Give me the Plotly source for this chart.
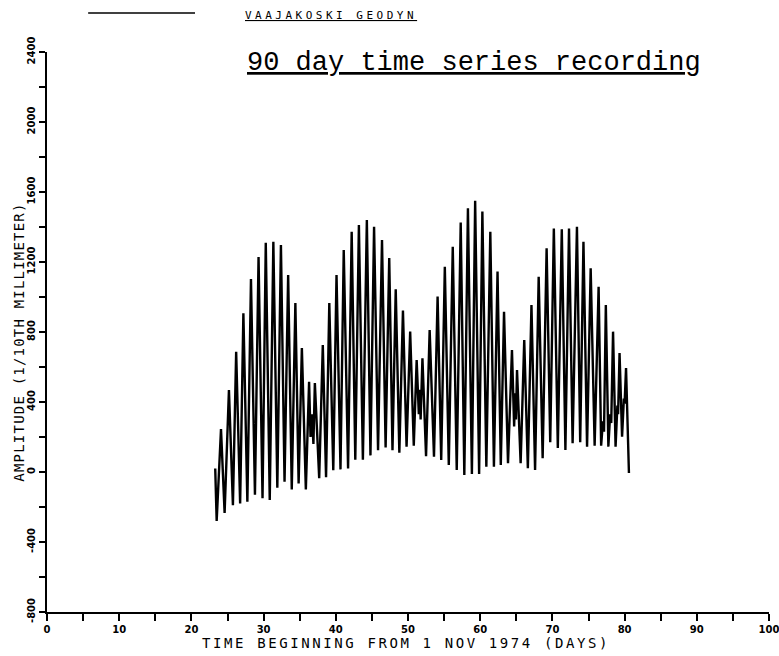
import plotly.graph_objects as go

# Turning points (day, amplitude) read from the recording
turn_days = [
    23.3, 23.5,
    24.1, 24.6, 25.2, 25.75, 26.2, 26.75, 27.2, 27.75, 28.25, 28.8,
    29.3, 29.85, 30.3, 30.85, 31.35, 31.9, 32.4, 32.9, 33.4, 33.9,
    34.4, 34.85, 35.3, 35.85, 36.3, 36.5, 36.7, 36.9, 37.1, 37.7,
    38.2, 38.65, 39.1, 39.65, 40.1, 40.65, 41.1, 41.7, 42.2, 42.7,
    43.2, 43.75, 44.3, 44.8, 45.3, 45.85, 46.4, 46.9, 47.4, 47.85,
    48.3, 48.8, 49.3, 49.8, 50.3, 50.8, 51.2, 51.5, 51.65, 51.75,
    52.0, 52.5, 53.0, 53.6, 54.1, 54.6, 55.1, 55.65, 56.2, 56.75,
    57.3, 57.8, 58.3, 58.85, 59.3, 59.85, 60.3, 60.85, 61.4, 61.9,
    62.4, 62.85, 63.3, 63.85, 64.4, 64.7, 64.85, 64.95, 65.1, 65.6,
    66.1, 66.6, 67.1, 67.6, 68.1, 68.65, 69.2, 69.7, 70.2, 70.75,
    71.3, 71.8, 72.3, 72.8, 73.4, 73.85, 74.3, 74.8, 75.3, 75.85,
    76.4, 76.75, 77.0, 77.15, 77.4, 77.75, 78.0, 78.15, 78.4, 78.75,
    79.0, 79.1, 79.3, 79.65, 79.9, 80.0, 80.2, 80.6,
]
turn_values = [
    20, -280,
    246, -234, 469, -190, 687, -180, 907, -170, 1103, -130,
    1229, -150, 1310, -160, 1316, -90, 1297, -55, 1126, -100,
    966, -65, 709, -100, 516, 200, 330, 160, 509, -35,
    726, -30, 966, 10, 1126, 15, 1269, 20, 1373, 70,
    1411, 70, 1440, 95, 1402, 125, 1326, 140, 1223, 125,
    1044, 110, 922, 145, 802, 150, 640, 330, 470, 300,
    650, 90, 811, 88, 1002, 69, 1173, 40, 1287, 11,
    1425, -17, 1507, -11, 1550, -11, 1488, 30, 1373, 30,
    1145, 40, 916, 50, 697, 260, 450, 300, 583, 50,
    754, 21, 954, 11, 1116, 79, 1278, 170, 1392, 137,
    1387, 126, 1392, 164, 1402, 170, 1316, 145, 1164, 150,
    1059, 150, 290, 230, 954, 145, 330, 280, 802, 145,
    380, 330, 680, 202, 420, 390, 594, -6,
]

x_ticks = [0, 10, 20, 30, 40, 50, 60, 70, 80, 90, 100]
y_ticks = [-800, -400, 0, 400, 800, 1200, 1600, 2000, 2400]

header_label = "VAAJAKOSKI GEODYN"
title_text = "90 day time series recording"
x_title = "TIME BEGINNING FROM 1 NOV 1974 (DAYS)"
y_title = "AMPLITUDE (1/10TH MILLIMETER)"


def spaced(text, px):
    return '<span style="letter-spacing:%spx">%s</span>' % (px, text)


fig = go.Figure()
fig.add_trace(go.Scatter(
    x=turn_days, y=turn_values, mode="lines",
    line=dict(color="black", width=2.4), showlegend=False,
    hoverinfo="x+y",
))

tickfont = dict(family="DejaVu Sans", size=10, color="black", weight="bold")

fig.update_layout(
    width=779, height=656,
    margin=dict(l=47, r=10, t=52, b=44, autoexpand=False),
    paper_bgcolor="white", plot_bgcolor="white",
    xaxis=dict(
        range=[0, 100], tickvals=x_ticks, ticktext=[str(v) for v in x_ticks],
        ticks="outside", ticklen=7, tickwidth=1.5, tickcolor="black",
        minor=dict(dtick=5, tick0=0, ticks="outside", ticklen=7, tickwidth=1.5, tickcolor="black"),
        showline=True, linecolor="black", linewidth=2, showgrid=False, zeroline=False,
        tickfont=tickfont, ticklabeloverflow="allow", automargin=False,
    ),
    yaxis=dict(
        range=[-800, 2400], tickvals=y_ticks, ticktext=[str(v) for v in y_ticks],
        tickangle=-90,
        ticks="outside", ticklen=6, tickwidth=1.5, tickcolor="black",
        minor=dict(dtick=200, tick0=0, ticks="outside", ticklen=6, tickwidth=1.5, tickcolor="black"),
        showline=True, linecolor="black", linewidth=2, showgrid=False, zeroline=False,
        tickfont=tickfont, ticklabeloverflow="allow", automargin=False,
    ),
    shapes=[dict(type="line", xref="paper", yref="paper",
                 x0=0.057, x1=0.205, y0=1.0696, y1=1.0696,
                 line=dict(color="black", width=1.5))],
    annotations=[
        dict(text="<u>" + spaced(header_label, 3.5) + "</u>", xref="paper", yref="paper",
             x=0.2715, y=1.066, xanchor="left", yanchor="middle", showarrow=False,
             font=dict(family="DejaVu Sans Mono", size=11, color="black")),
        dict(text="<u>" + title_text + "</u>", xref="paper", yref="paper",
             x=0.274, y=0.98, xanchor="left", yanchor="middle", showarrow=False,
             font=dict(family="Liberation Mono", size=27, color="black")),
        dict(text=spaced(x_title, 2.6), xref="paper", yref="paper",
             x=0.497, y=-0.055, xanchor="center", yanchor="middle", showarrow=False,
             font=dict(family="DejaVu Sans Mono", size=14, color="black")),
        dict(text=spaced(y_title, 1.2), xref="paper", yref="paper", textangle=-90,
             x=-0.038, y=0.482, xanchor="center", yanchor="middle", showarrow=False,
             font=dict(family="DejaVu Sans Mono", size=14, color="black")),
    ],
)

fig.write_html(
    "out.html",
    config={"displayModeBar": False},
    post_script="document.body.style.margin='0';document.body.style.overflow='hidden';",
)
